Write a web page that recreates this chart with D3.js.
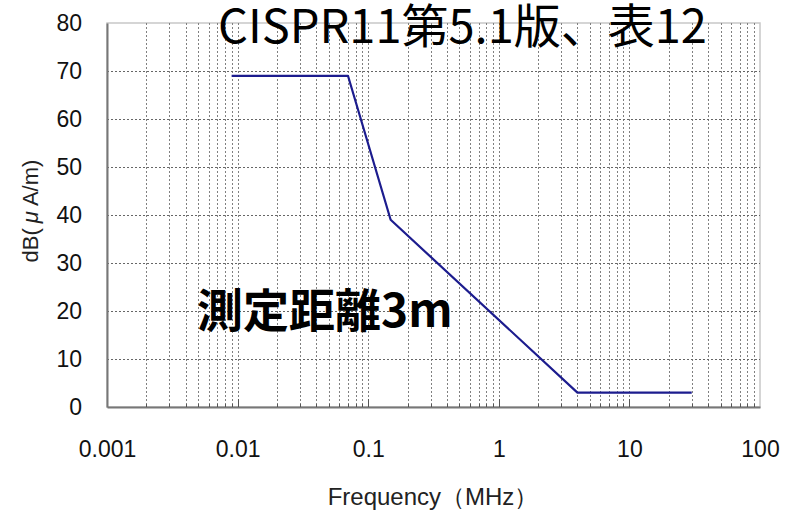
<!DOCTYPE html>
<html>
<head>
<meta charset="utf-8">
<script src="https://cdn.jsdelivr.net/npm/d3@7"></script>
<style>
  html, body { margin: 0; padding: 0; background: #fff; }
  svg { display: block; }
</style>
</head>
<body>
<svg id="chart" width="785" height="512"></svg>
<script>
// CISPR 11 Ed.5.1 Table 12 magnetic field limit, 3 m distance
const freqMHz = [0.009, 0.07, 0.1485, 4.0, 30];
const limitDb = [69, 69, 39, 3, 3];
const xTickValues = [0.001, 0.01, 0.1, 1, 10, 100];
const xTickLabels = ["0.001", "0.01", "0.1", "1", "10", "100"];
const yTickValues = [0, 10, 20, 30, 40, 50, 60, 70, 80];

const titleText = "CISPR11第5.1版、表12";
const noteText = "測定距離3m";
const xLabel = "Frequency（MHz）";

const svg = d3.select("#chart");
const m = { left: 107, right: 25, top: 23, bottom: 105 };
const W = 785, H = 512;

const x = d3.scaleLog().domain([0.001, 100]).range([m.left, W - m.right]);
const y = d3.scaleLinear().domain([0, 80]).range([H - m.bottom, m.top]);

const tickFont = "'Liberation Sans', Arial, sans-serif";

// minor decade positions for the grid
const minorX = [];
for (let e = -3; e < 2; e++) {
  for (let k = 2; k <= 9; k++) minorX.push(k * Math.pow(10, e));
}

const g = svg.append("g");

// frame
g.append("rect")
  .attr("x", x(0.001)).attr("y", y(80))
  .attr("width", x(100) - x(0.001)).attr("height", y(0) - y(80))
  .attr("fill", "#fff").attr("stroke", "#c8c8c8").attr("stroke-width", 1.5);

// vertical grid (minor + major)
g.append("g").selectAll("line")
  .data(minorX.concat(xTickValues.slice(1, -1)))
  .join("line")
  .attr("x1", d => Math.round(x(d)) + 0.5).attr("x2", d => Math.round(x(d)) + 0.5)
  .attr("y1", y(80)).attr("y2", y(0))
  .attr("stroke", "#808080").attr("stroke-width", 1)
  .attr("stroke-dasharray", "2,2");

// horizontal grid
g.append("g").selectAll("line")
  .data(yTickValues.slice(1, -1))
  .join("line")
  .attr("x1", x(0.001)).attr("x2", x(100))
  .attr("y1", d => Math.round(y(d)) + 0.5).attr("y2", d => Math.round(y(d)) + 0.5)
  .attr("stroke", "#666").attr("stroke-width", 1)
  .attr("stroke-dasharray", "2,2");

// axes
const xAxis = d3.axisBottom(x)
  .tickValues(xTickValues)
  .tickFormat((d, i) => xTickLabels[i])
  .tickSize(0).tickPadding(34);
const xa = g.append("g").attr("transform", `translate(0,${y(0)})`).call(xAxis);
xa.select(".domain").attr("stroke", "#777").attr("stroke-width", 2);
xa.selectAll("text").attr("font-family", tickFont).attr("font-size", 23).attr("fill", "#111");

// small ticks rising from the baseline
g.append("g").selectAll("line")
  .data(minorX)
  .join("line")
  .attr("x1", d => Math.round(x(d)) + 0.5).attr("x2", d => Math.round(x(d)) + 0.5)
  .attr("y1", y(0)).attr("y2", y(0) - 3)
  .attr("stroke", "#555");
g.append("g").selectAll("line")
  .data(xTickValues.slice(1, -1))
  .join("line")
  .attr("x1", d => Math.round(x(d)) + 0.5).attr("x2", d => Math.round(x(d)) + 0.5)
  .attr("y1", y(0)).attr("y2", y(0) - 8)
  .attr("stroke", "#555");

const yAxis = d3.axisLeft(y).tickValues(yTickValues).tickSize(0).tickPadding(25);
const ya = g.append("g").attr("transform", `translate(${x(0.001)},0)`).call(yAxis);
ya.select(".domain").attr("stroke", "#777").attr("stroke-width", 2);
ya.selectAll("text").attr("font-family", tickFont).attr("font-size", 23).attr("fill", "#111");

// limit line
const line = d3.line().x((d, i) => x(freqMHz[i])).y(d => y(d));
g.append("path")
  .datum(limitDb)
  .attr("d", line)
  .attr("fill", "none")
  .attr("stroke", "#1c1c8e")
  .attr("stroke-width", 2.2)
  .attr("stroke-linejoin", "round");

// axis titles
svg.append("text")
  .attr("x", 433).attr("y", 505)
  .attr("text-anchor", "middle")
  .attr("font-family", tickFont).attr("font-size", 24).attr("fill", "#222")
  .text(xLabel);

const yl = svg.append("text")
  .attr("transform", "translate(38,211) rotate(-90)")
  .attr("text-anchor", "middle")
  .attr("font-family", tickFont).attr("font-size", 22).attr("fill", "#222");
yl.append("tspan").text("dB(");
yl.append("tspan").attr("dx", 5).attr("font-style", "italic").text("μ");
yl.append("tspan").attr("dx", 5).text("A/m)");

// title and annotation
svg.append("text")
  .attr("x", 218).attr("y", 43)
  .attr("font-family", "'Noto Sans CJK JP', sans-serif")
  .attr("font-size", 47).attr("fill", "#000")
  .text(titleText);

svg.append("text")
  .attr("x", 197).attr("y", 327)
  .attr("font-family", "'Noto Sans CJK JP', sans-serif")
  .attr("font-weight", "bold")
  .attr("font-size", 46).attr("fill", "#000")
  .text(noteText);
</script>
</body>
</html>
